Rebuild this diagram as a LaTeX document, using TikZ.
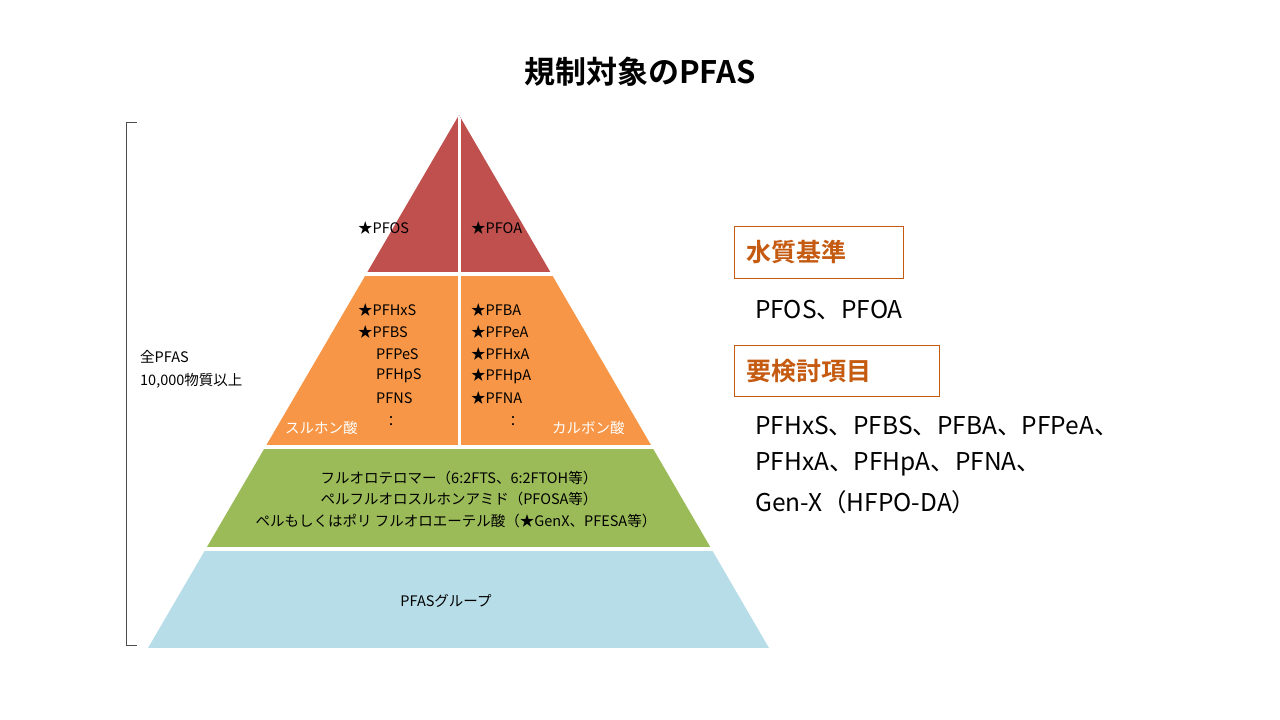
\documentclass[tikz,border=0pt]{standalone}
\usepackage{fontspec}
\setmainfont{Noto Sans CJK JP}
\newfontfamily\jpb{Noto Sans CJK JP Bold}
\definecolor{cred}{HTML}{C0504D}
\definecolor{corg}{HTML}{F79646}
\definecolor{cgrn}{HTML}{9BBB59}
\definecolor{cblu}{HTML}{B7DDE8}
\definecolor{ctxt}{HTML}{C55A11}
\begin{document}
\begin{tikzpicture}[x=1pt,y=-1pt,
  sm/.style={font=\fontsize{14.5}{15}\selectfont,inner sep=0pt},
  smw/.style={sm,text=white},
  big/.style={font=\fontsize{24.5}{28}\selectfont,inner sep=0pt,anchor=west},
  hbox/.style={draw=ctxt,text=ctxt,font=\jpb\fontsize{25}{28}\selectfont,inner sep=0pt,anchor=west}]
\useasboundingbox[fill=white] (0,0) rectangle (1280,720);
\node[inner sep=0pt,font=\jpb\fontsize{31}{34}\selectfont] (title) at (640,72) {規制対象のPFAS};
\begin{scope}
\clip (459,115) -- (769,648) -- (148,648) -- cycle;
\fill[cred] (0,100) rectangle (1280,272);
\fill[corg] (0,276) rectangle (1280,445);
\fill[cgrn] (0,449) rectangle (1280,547);
\fill[cblu] (0,551) rectangle (1280,648);
\fill[white] (457.5,100) rectangle (460.5,445);
\end{scope}
\node[sm,anchor=west] (a1) at (358,228) {★PFOS};
\node[sm,anchor=west] (b1) at (471,228) {★PFOA};
\foreach \t [count=\i] in {★PFHxS,★PFBS} \node[sm,anchor=west] at (358,288+22*\i) {\t};
\foreach \t [count=\i] in {PFPeS,PFHpS,PFNS} \node[sm,anchor=west] at (376,332+22*\i) {\t};
\node[sm] (d1) at (391,421) {：};
\node[smw,anchor=west] (s1) at (285,428) {スルホン酸};
\foreach \t [count=\i] in {★PFBA,★PFPeA,★PFHxA,★PFHpA,★PFNA} \node[sm,anchor=west] at (471,288+22*\i) {\t};
\node[sm] (d2) at (513,421) {：};
\node[smw,anchor=west] (s2) at (552,428) {カルボン酸};
\node[sm] (g1) at (459,478) {フルオロテロマー（6:2FTS、6:2FTOH等）};
\node[sm] (g2) at (459,499) {ペルフルオロスルホンアミド（PFOSA等）};
\node[sm] (g3) at (456,521) {ペルもしくはポリ フルオロエーテル酸（★GenX、PFESA等）};
\node[sm] (bl) at (446,601) {PFASグループ};
\draw[black!70] (137,122) -- (126,122) -- (126,645) -- (137,645);
\node[sm,anchor=west] (all1) at (140,357) {全PFAS};
\node[sm,anchor=west] (all2) at (140,381) {10,000物質以上};
\node[hbox,minimum width=169pt,minimum height=52pt,align=left,text width=145pt,inner xsep=12pt] (h1) at (734,252) {水質基準};
\node[big] (t1) at (755,310) {PFOS、PFOA};
\node[hbox,minimum width=205pt,minimum height=51pt,text width=181pt,inner xsep=12pt] (h2) at (734,371) {要検討項目};
\node[big] (t2) at (755,426) {PFHxS、PFBS、PFBA、PFPeA、};
\node[big] (t3) at (755,464) {PFHxA、PFHpA、PFNA、};
\node[big] (t4) at (755,502) {Gen-X（HFPO-DA）};
\end{tikzpicture}
\end{document}
